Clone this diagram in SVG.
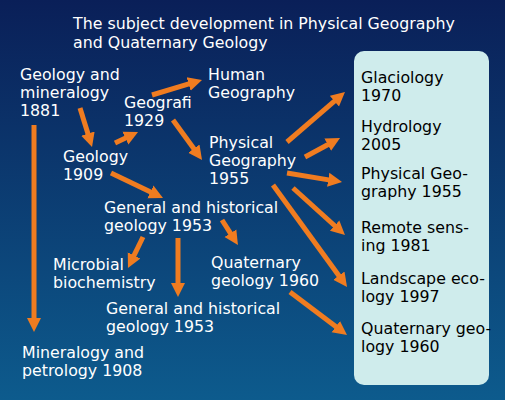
<svg xmlns="http://www.w3.org/2000/svg" width="505" height="400" viewBox="0 0 505 400">
<defs>
<linearGradient id="bg" x1="0" y1="0" x2="0" y2="1">
<stop offset="0" stop-color="#0a1f58"/>
<stop offset="1" stop-color="#0d5b8d"/>
</linearGradient>
<marker id="ah" markerUnits="userSpaceOnUse" markerWidth="16" markerHeight="16" viewBox="0 -8 16 16" refX="2" refY="0" orient="auto">
<path d="M0,-7 L14,0 L0,7 z" fill="#f07c20"/>
</marker>
<style>
text{font-family:"DejaVu Sans","Liberation Sans",sans-serif;font-size:15.8px;fill:#ffffff}
.b text{fill:#000000}
.c line{stroke:#f07c20;stroke-width:5;marker-end:url(#ah)}
</style>
</defs>
<rect width="505" height="400" fill="url(#bg)"/>
<g id="title"><text x="73" y="29">The subject development in Physical Geography</text><text x="73" y="48">and Quaternary Geology</text></g>
<g id="box" class="b">
<rect x="354" y="51" width="135" height="334" rx="10" fill="#cfecec"/>
<text x="361" y="83">Glaciology</text><text x="361" y="101">1970</text>
<text x="361" y="132">Hydrology</text><text x="361" y="150">2005</text>
<text x="361" y="179">Physical Geo-</text><text x="361" y="197">graphy 1955</text>
<text x="361" y="233">Remote sens-</text><text x="361" y="251">ing 1981</text>
<text x="361" y="284">Landscape eco-</text><text x="361" y="302">logy 1997</text>
<text x="361" y="334">Quaternary geo-</text><text x="361" y="352">logy 1960</text>
</g>
<g id="n1881"><text x="20" y="80">Geology and</text><text x="20" y="98">mineralogy</text><text x="20" y="116">1881</text></g>
<g id="human"><text x="208" y="80">Human</text><text x="208" y="98">Geography</text></g>
<g id="geografi"><text x="124" y="108">Geografi</text><text x="124" y="126">1929</text></g>
<g id="geology1909"><text x="63" y="162">Geology</text><text x="63" y="180">1909</text></g>
<g id="physical"><text x="209" y="148">Physical</text><text x="209" y="166">Geography</text><text x="209" y="184">1955</text></g>
<g id="general1"><text x="104" y="213">General and historical</text><text x="104" y="231">geology 1953</text></g>
<g id="microbial"><text x="53" y="270">Microbial</text><text x="53" y="288">biochemistry</text></g>
<g id="quaternary"><text x="211" y="268">Quaternary</text><text x="211" y="286">geology 1960</text></g>
<g id="general2"><text x="106" y="314">General and historical</text><text x="106" y="332">geology 1953</text></g>
<g id="mineralogy"><text x="22" y="358">Mineralogy and</text><text x="22" y="376">petrology 1908</text></g>
<g id="connectors" class="c">
<line x1="80" y1="108" x2="88.5" y2="135.5"/>
<line x1="34" y1="125" x2="34" y2="320"/>
<line x1="115" y1="143" x2="127.2" y2="137.2"/>
<line x1="152" y1="95" x2="190.5" y2="83.4"/>
<line x1="173" y1="120" x2="195" y2="150.3"/>
<line x1="111" y1="173" x2="152.2" y2="192.8"/>
<line x1="287" y1="142" x2="335.9" y2="99.8"/>
<line x1="305" y1="157" x2="329.5" y2="143.7"/>
<line x1="287" y1="173" x2="330.2" y2="180.1"/>
<line x1="293" y1="188" x2="336.1" y2="227"/>
<line x1="273" y1="185" x2="340" y2="277.3"/>
<line x1="290" y1="292" x2="337.4" y2="327.8"/>
<line x1="222" y1="220" x2="231.5" y2="234.9"/>
<line x1="143" y1="237" x2="133.2" y2="257.2"/>
<line x1="178" y1="238" x2="178" y2="285"/>
</g>
</svg>
